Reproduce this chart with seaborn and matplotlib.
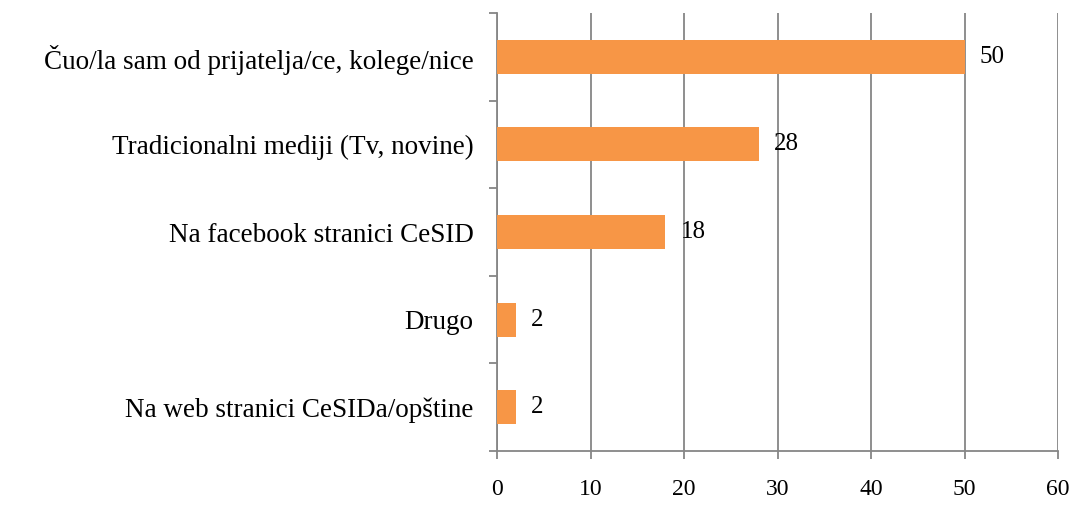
# Horizontalni stubicasti grafik: kako ste culi za CeSID

import pandas as pd
import matplotlib.pyplot as plt
import seaborn as sns

kategorije = ['Čuo/la sam od prijatelja/ce, kolege/nice',
              'Tradicionalni mediji (Tv, novine)',
              'Na facebook stranici CeSID',
              'Drugo',
              'Na web stranici CeSIDa/opštine']
vrednosti = [50, 28, 18, 2, 2]
x_podeoci = [0, 10, 20, 30, 40, 50, 60]

df = pd.DataFrame({'kategorija': kategorije, 'vrednost': vrednosti})

sns.set_style('white')
plt.rcParams['font.family'] = ['Liberation Serif', 'DejaVu Serif']

fig = plt.figure(figsize=(10.76, 5.05), dpi=100)
ax = fig.add_axes([497 / 1076, 1 - 451 / 505, 561 / 1076, 438 / 505])

sns.barplot(data=df, x='vrednost', y='kategorija', orient='h',
            color='#F79646', width=0.39, saturation=1, linewidth=0,
            edgecolor='none', ax=ax, zorder=3)

# vrednosti pored stubica
for i, v in enumerate(vrednosti):
    ax.annotate(str(v), (v, i), xytext=(11, 0), textcoords='offset points',
                va='center', ha='left', fontsize=18, color='black')

gray = '#868686'
ax.set_xlim(0, 60)
ax.set_ylim(4.5, -0.5)
ax.set_xticks(x_podeoci)
ax.set_xticklabels([str(t) for t in x_podeoci], fontsize=17)
ax.xaxis.grid(True, color=gray, linewidth=1.3, zorder=0)
ax.set_axisbelow(True)

# podeoci na y osi izmedju kategorija
ax.set_yticks([i - 0.5 for i in range(6)], minor=True)
ax.tick_params(axis='y', which='major', left=False, length=0, pad=17,
               labelsize=19.5, labelcolor='black')
ax.tick_params(axis='y', which='minor', left=True, length=6, width=1.3,
               color=gray, direction='out')
ax.tick_params(axis='x', bottom=True, length=6, width=1.3, color=gray,
               direction='out', pad=14, labelcolor='black')

for s in ['top', 'right']:
    ax.spines[s].set_visible(False)
for s in ['left', 'bottom']:
    ax.spines[s].set_color(gray)
    ax.spines[s].set_linewidth(1.3)

ax.set_xlabel('')
ax.set_ylabel('')

plt.savefig('out.png', dpi=100)
